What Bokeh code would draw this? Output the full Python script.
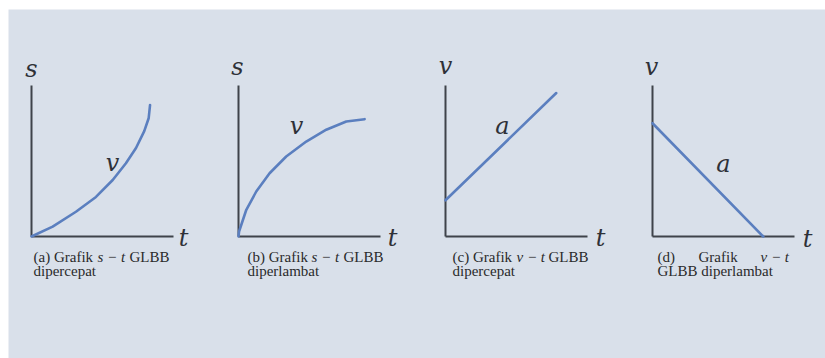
from bokeh.plotting import figure
from bokeh.models import Range1d, Label
from bokeh.embed import file_html
from bokeh.resources import INLINE

# --- Curve data (normalised time / quantity units) ---
# (a) s-t, accelerated motion
t_accel = [0.0, 0.149, 0.313, 0.454, 0.572, 0.665, 0.736, 0.794, 0.825, 0.835]
s_accel = [0.0, 0.065, 0.164, 0.262, 0.374, 0.485, 0.586, 0.698, 0.783, 0.871]
# (b) s-t, decelerated motion
t_decel = [0.0, 0.004, 0.055, 0.125, 0.219, 0.336, 0.477, 0.618, 0.759, 0.888]
s_decel = [0.0, 0.033, 0.177, 0.298, 0.419, 0.530, 0.629, 0.707, 0.762, 0.777]
# (c) v-t, accelerated motion
t_vacc = [0.0, 0.78]
v_vacc = [0.24, 0.95]
# (d) v-t, decelerated motion
t_vdec = [0.0, 0.78]
v_vdec = [0.75, 0.0]

# --- Text ---
y_labels = ["s", "s", "v", "v"]
curve_labels = ["v", "v", "a", "a"]
caption_tags = ["(a) Grafik", "(b) Grafik", "(c) Grafik"]
caption_vars = ["s \u2212 t", "s \u2212 t", "v \u2212 t"]
caption_tail = "GLBB"
caption_line2 = ["dipercepat", "diperlambat", "dipercepat"]

BG = "#d9e0ea"
CURVE = "#5b7fbf"
AXIS = "#3f434a"
INK = "#2e3138"
CAP = "#2a2a2a"
MATH_FONT = "DejaVu Serif"
CAP_FONT = "Liberation Serif"
CAP_SIZE = 15

W, H = 817, 349          # drawing area
FW, FH = 142, 151        # size of one panel's axes box in pixels
ORIGIN_Y = 122           # axes origin, pixels above the bottom edge
ORIGINS_X = [23, 230, 437, 644]
names = ["a", "b", "c", "d"]

p = figure(width=W, height=H, margin=(9, 0, 0, 8),
           x_range=Range1d(-ORIGINS_X[0] / FW, (W - ORIGINS_X[0]) / FW),
           y_range=Range1d(-ORIGIN_Y / FH, (H - ORIGIN_Y) / FH),
           x_axis_location=None, y_axis_location=None,
           min_border=0, toolbar_location=None, output_backend="svg",
           background_fill_color=BG, border_fill_color=BG,
           outline_line_color=None)
p.grid.visible = False

# one x range per panel, so each panel has its own unit box
for nm, ox in zip(names, ORIGINS_X):
    p.extra_x_ranges[nm] = Range1d(-ox / FW, (W - ox) / FW)

series = [(t_accel, s_accel), (t_decel, s_decel), (t_vacc, v_vacc), (t_vdec, v_vdec)]


def lbl(nm, dx, dy, text, size, italic=False, font=MATH_FONT, color=INK,
        align="center", baseline="middle"):
    """Label at a pixel offset (dx right, dy up) from a panel's origin."""
    p.add_layout(Label(x=dx / FW, y=dy / FH, x_range_name=nm, text=text,
                       text_font=font, text_font_size=f"{size}px",
                       text_font_style="italic" if italic else "normal",
                       text_color=color, text_align=align, text_baseline=baseline))


def cap(nm, dx, dy, text, italic=False):
    lbl(nm, dx, dy, text, CAP_SIZE, italic=italic, font=CAP_FONT, color=CAP,
        align="left", baseline="alphabetic")


for nm, (t, y) in zip(names, series):
    # axes: vertical and horizontal arms of the unit box
    p.segment(x0=[0, 0], y0=[0, 0], x1=[0, 1], y1=[1, 0], x_range_name=nm,
              line_color=AXIS, line_width=2)
    p.line(t, y, x_range_name=nm, line_color=CURVE, line_width=2.6,
           line_join="round", line_cap="round")

# axis letters and curve names (pixel offsets from each origin)
axis_top = [(0, 168), (-1, 170), (0, 171), (-1, 170)]
axis_right = [(152, -1), (154, -1), (155, -1), (155, -2)]
curve_pos = [(81, 74), (58, 111), (57, 111), (71, 73)]
for nm, ylab, clab, yt, xr, cp in zip(names, y_labels, curve_labels,
                                       axis_top, axis_right, curve_pos):
    lbl(nm, yt[0], yt[1], ylab, 24, italic=True)
    lbl(nm, xr[0], xr[1], "t", 24, italic=True)
    lbl(nm, cp[0], cp[1], clab, 24, italic=True)

# captions for (a)-(c)
cap_x = [2, 9, 7]
for nm, x0, tag, var, l2 in zip(names[:3], cap_x, caption_tags, caption_vars, caption_line2):
    cap(nm, x0, -20, tag)
    cap(nm, x0 + 64, -20, var, italic=True)
    cap(nm, x0 + 96, -20, caption_tail)
    cap(nm, x0, -34, l2)

# caption for (d), justified across its first line
cap("d", 5, -20, "(d)")
cap("d", 46, -20, "Grafik")
cap("d", 108, -20, "v \u2212 t", italic=True)
cap("d", 5, -34, "GLBB diperlambat")

open("out.html", "w").write(file_html(p, INLINE))
